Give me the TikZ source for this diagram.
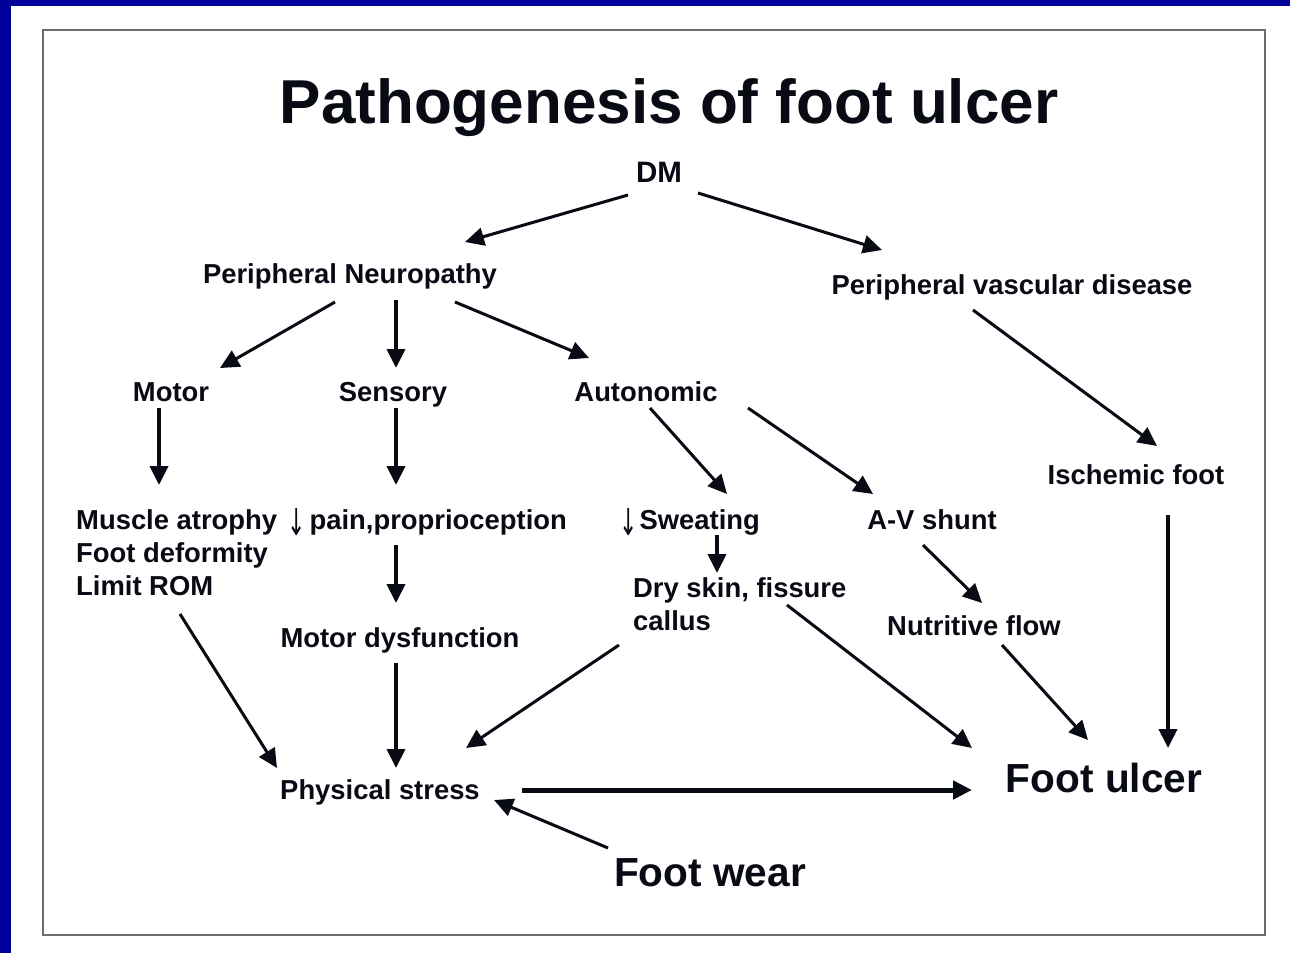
\documentclass[tikz,border=0pt]{standalone}
\usepackage{fontspec}
\setmainfont{Liberation Sans}
\newfontfamily\symfont{DejaVu Sans}
\usetikzlibrary{arrows.meta,calc}
\definecolor{slideblue}{RGB}{0,0,155}
\definecolor{framegray}{RGB}{110,110,110}
\definecolor{ink}{RGB}{8,10,20}
\newcommand{\dnarr}{\raisebox{-6pt}{\scalebox{0.8}[1.35]{\symfont\mdseries ↓}}}
\tikzset{
  lbl/.style={font=\bfseries\fontsize{27.4}{31}\selectfont, inner sep=0pt, text=ink},
  big/.style={font=\bfseries\fontsize{40.6}{46}\selectfont, inner sep=0pt, text=ink},
  arr/.style={draw=ink, line width=3pt, -{Triangle[length=19pt,width=18pt]}},
  varr/.style={arr, line width=4pt},
}
\begin{document}
\begin{tikzpicture}[x=1pt,y=-1pt]
\useasboundingbox (0,0) rectangle (1290,953);
\fill[white] (0,0) rectangle (1290,953);
\fill[slideblue] (0,0) rectangle (11,953);
\fill[slideblue] (0,0) rectangle (1290,6);
\draw[framegray, line width=2pt] (43,30) rectangle (1265,935);

\node[font=\bfseries\fontsize{62}{72}\selectfont, inner sep=0pt, text=ink, anchor=base] (title) at (669,123) {Pathogenesis of foot ulcer};

\node[lbl, font=\bfseries\fontsize{29.5}{34}\selectfont, anchor=base] (dm) at (659,182) {DM};
\node[lbl, anchor=base] (pn) at (350,283) {Peripheral Neuropathy};
\node[lbl, anchor=base] (pvd) at (1012,294) {Peripheral vascular disease};
\node[lbl, anchor=base] (motor) at (171,401) {Motor};
\node[lbl, anchor=base] (sens) at (393,401) {Sensory};
\node[lbl, anchor=base] (auto) at (646,401) {Autonomic};
\node[lbl, anchor=base] (isch) at (1136,484) {Ischemic foot};
\node[lbl, anchor=base west] (mus1) at (76,529) {Muscle atrophy};
\node[lbl, anchor=base west] (mus2) at (76,562) {Foot deformity};
\node[lbl, anchor=base west] (mus3) at (76,595) {Limit ROM};
\node[lbl, anchor=base west] (pain) at (287,529) {\dnarr\hspace{4pt}pain,proprioception};
\node[lbl, anchor=base west] (sweat) at (619,529) {\dnarr\hspace{2pt}Sweating};
\node[lbl, anchor=base] (av) at (932,529) {A-V shunt};
\node[lbl, anchor=base west] (dry1) at (633,597) {Dry skin, fissure};
\node[lbl, anchor=base west] (dry2) at (633,630) {callus};
\node[lbl, anchor=base] (nut) at (974,635) {Nutritive flow};
\node[lbl, anchor=base] (md) at (400,647) {Motor dysfunction};
\node[lbl, anchor=base] (ps) at (380,799) {Physical stress};
\node[big, anchor=base] (fu) at (1104,792) {Foot ulcer};
\node[big, anchor=base] (fw) at (710,886) {Foot wear};

\draw[arr] ($(dm.base)+(-31,13)$) -- ($(pn.base)+(115,-41)$);
\draw[arr] ($(dm.base)+(39,11)$) -- ($(pvd.base)+(-130,-44)$);
\draw[arr] ($(pn.base)+(-15,19)$) -- ($(motor.base)+(49,-33)$);
\draw[varr] ($(pn.base)+(46,17)$) -- ($(sens.base)+(3,-33)$);
\draw[arr] ($(pn.base)+(105,19)$) -- ($(auto.base)+(-57,-43)$);
\draw[varr] ($(motor.base)+(-12,7)$) -- ($(mus1.base west)+(83,-44)$);
\draw[varr] ($(sens.base)+(3,7)$) -- ($(pain.base west)+(109,-44)$);
\draw[arr] ($(auto.base)+(4,7)$) -- ($(sweat.base west)+(108,-35)$);
\draw[arr] ($(auto.base)+(102,7)$) -- ($(av.base)+(-59,-35)$);
\draw[arr] ($(pvd.base)+(-39,16)$) -- ($(isch.base)+(21,-38)$);
\draw[varr] ($(isch.base)+(32,31)$) -- ($(fu.base)+(64,-44)$);
\draw[varr] ($(sweat.base west)+(98,6)$) -- ($(dry1.base west)+(84,-24)$);
\draw[arr] ($(av.base)+(-9,16)$) -- ($(nut.base)+(8,-32)$);
\draw[varr] ($(pain.base west)+(109,16)$) -- ($(md.base)+(-4,-44)$);
\draw[arr] ($(mus3.base west)+(104,19)$) -- ($(ps.base)+(-103,-31)$);
\draw[varr] ($(md.base)+(-4,16)$) -- ($(ps.base)+(16,-31)$);
\draw[arr] ($(dry2.base west)+(-14,15)$) -- ($(ps.base)+(86,-51)$);
\draw[arr] ($(dry1.base west)+(154,8)$) -- ($(fu.base)+(-132,-44)$);
\draw[arr] ($(nut.base)+(28,10)$) -- ($(fu.base)+(-16,-52)$);
\draw[arr, line width=5pt] ($(ps.base)+(142,-9)$) -- ($(fu.base)+(-132,-2)$);
\draw[arr] ($(fw.base)+(-102,-38)$) -- ($(ps.base)+(114,1)$);
\end{tikzpicture}
\end{document}
